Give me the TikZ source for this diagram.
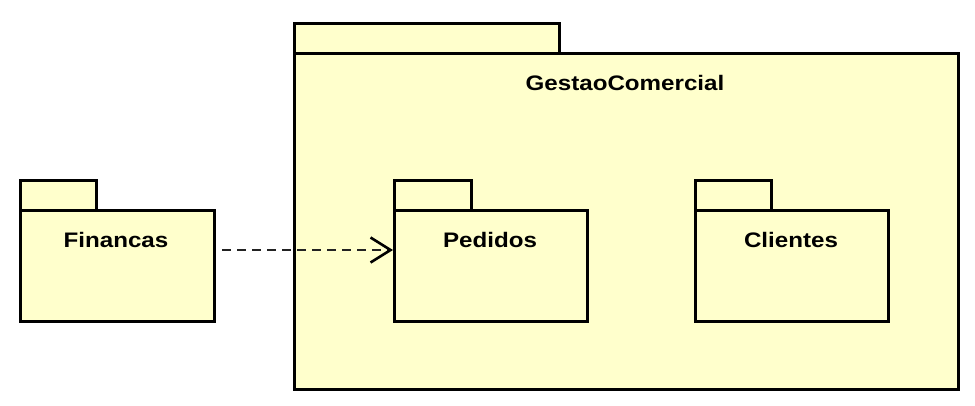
\documentclass[tikz,border=0pt]{standalone}
\usepackage{fontspec}
\setmainfont{Liberation Sans}[FakeStretch=1.15]
\usetikzlibrary{arrows.meta}
\definecolor{pkgfill}{HTML}{FFFFCC}
\definecolor{dep}{HTML}{222222}
\begin{document}
\begin{tikzpicture}[x=1pt,y=-1pt,
  pkg/.style={draw=black,fill=pkgfill,line width=3pt,line join=miter},
  lbl/.style={font=\fontsize{21}{25}\selectfont\bfseries,anchor=base},
  depend/.style={draw=dep,line width=2.2pt,dash pattern=on 9pt off 6pt,
     -{Straight Barb[length=20pt,width=25pt,line width=2.6pt,color=black]}}]
\useasboundingbox (0,0) rectangle (975,405);
% big package
\path[pkg] (294,23) rectangle (559,53);
\path[pkg] (294,53) rectangle (958,389);
\node[lbl] (gc) at (625,90) {GestaoComercial};
% Financas
\path[pkg] (20,180) rectangle (96,210);
\path[pkg] (20,210) rectangle (214,321);
\node[lbl] (fin) at (116,247) {Financas};
\coordinate (finr) at (222,250);
% Pedidos
\path[pkg] (394,180) rectangle (471,210);
\path[pkg] (394,210) rectangle (587,321);
\node[lbl] (ped) at (490,247) {Pedidos};
\coordinate (pedl) at (393,250);
% Clientes
\path[pkg] (695,180) rectangle (771,210);
\path[pkg] (695,210) rectangle (888,321);
\node[lbl] (cli) at (791,247) {Clientes};
\draw[depend] (finr) -- (pedl);
\end{tikzpicture}
\end{document}
